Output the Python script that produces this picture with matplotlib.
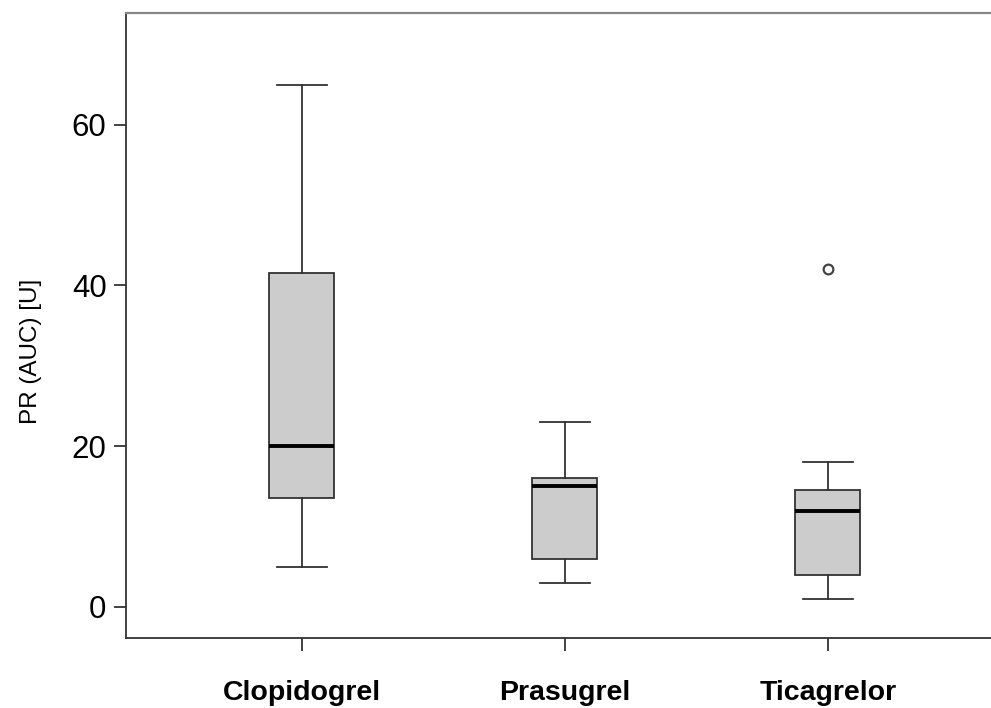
import matplotlib
matplotlib.use("Agg")
import matplotlib.pyplot as plt

plt.rcParams['font.family'] = ['Liberation Sans', 'DejaVu Sans']

# box summaries per drug (PR AUC, units)
grupos = ["Clopidogrel", "Prasugrel", "Ticagrelor"]
minimo = [5.0, 3.0, 1.0]
q1 = [13.5, 6.0, 4.0]
mediana = [20.0, 15.0, 12.0]
q3 = [41.5, 16.0, 14.5]
maximo = [65.0, 23.0, 18.0]
atipicos = [[], [], [42.0]]

stats = []
for i in range(len(grupos)):
    stats.append({"label": grupos[i], "whislo": minimo[i], "q1": q1[i], "med": mediana[i],
                  "q3": q3[i], "whishi": maximo[i], "fliers": atipicos[i]})

fig = plt.figure(figsize=(9.91, 7.08), dpi=100)
ax = fig.add_axes([126/991, 1 - 638/708, 1 - 126/991, (638 - 13)/708])

borde = "#333333"
ax.bxp(stats, positions=[1, 2, 3], widths=0.247, patch_artist=True,
       boxprops=dict(facecolor="#cccccc", edgecolor=borde, linewidth=1.3),
       medianprops=dict(color="black", linewidth=2.8),
       whiskerprops=dict(color=borde, linewidth=1.3),
       capprops=dict(color=borde, linewidth=1.3),
       capwidths=0.19,
       flierprops=dict(marker="o", markersize=7, markerfacecolor="white",
                       markeredgecolor="#444444", markeredgewidth=1.6))

ax.set_xlim(0.331, 3.62)
ax.set_ylim(-3.86, 73.9)
ax.set_yticks([0, 20, 40, 60])
ax.tick_params(axis="y", labelsize=22.5, length=9, width=1.3, color=borde, pad=5)
ax.tick_params(axis="x", labelsize=20.5, length=9, width=1.3, color=borde, pad=21)
for t in ax.get_xticklabels():
    t.set_fontweight("bold")

ax.spines["right"].set_visible(False)
ax.spines["top"].set_color("#888888")
ax.spines["top"].set_linewidth(1.6)
ax.spines["left"].set_color(borde)
ax.spines["bottom"].set_color(borde)
ax.spines["left"].set_linewidth(1.3)
ax.spines["bottom"].set_linewidth(1.3)

ax.set_ylabel("PR (AUC) [U]", fontsize=17.5)
ax.yaxis.set_label_coords(-0.097, 0.459)

plt.savefig("out.png", dpi=100)
